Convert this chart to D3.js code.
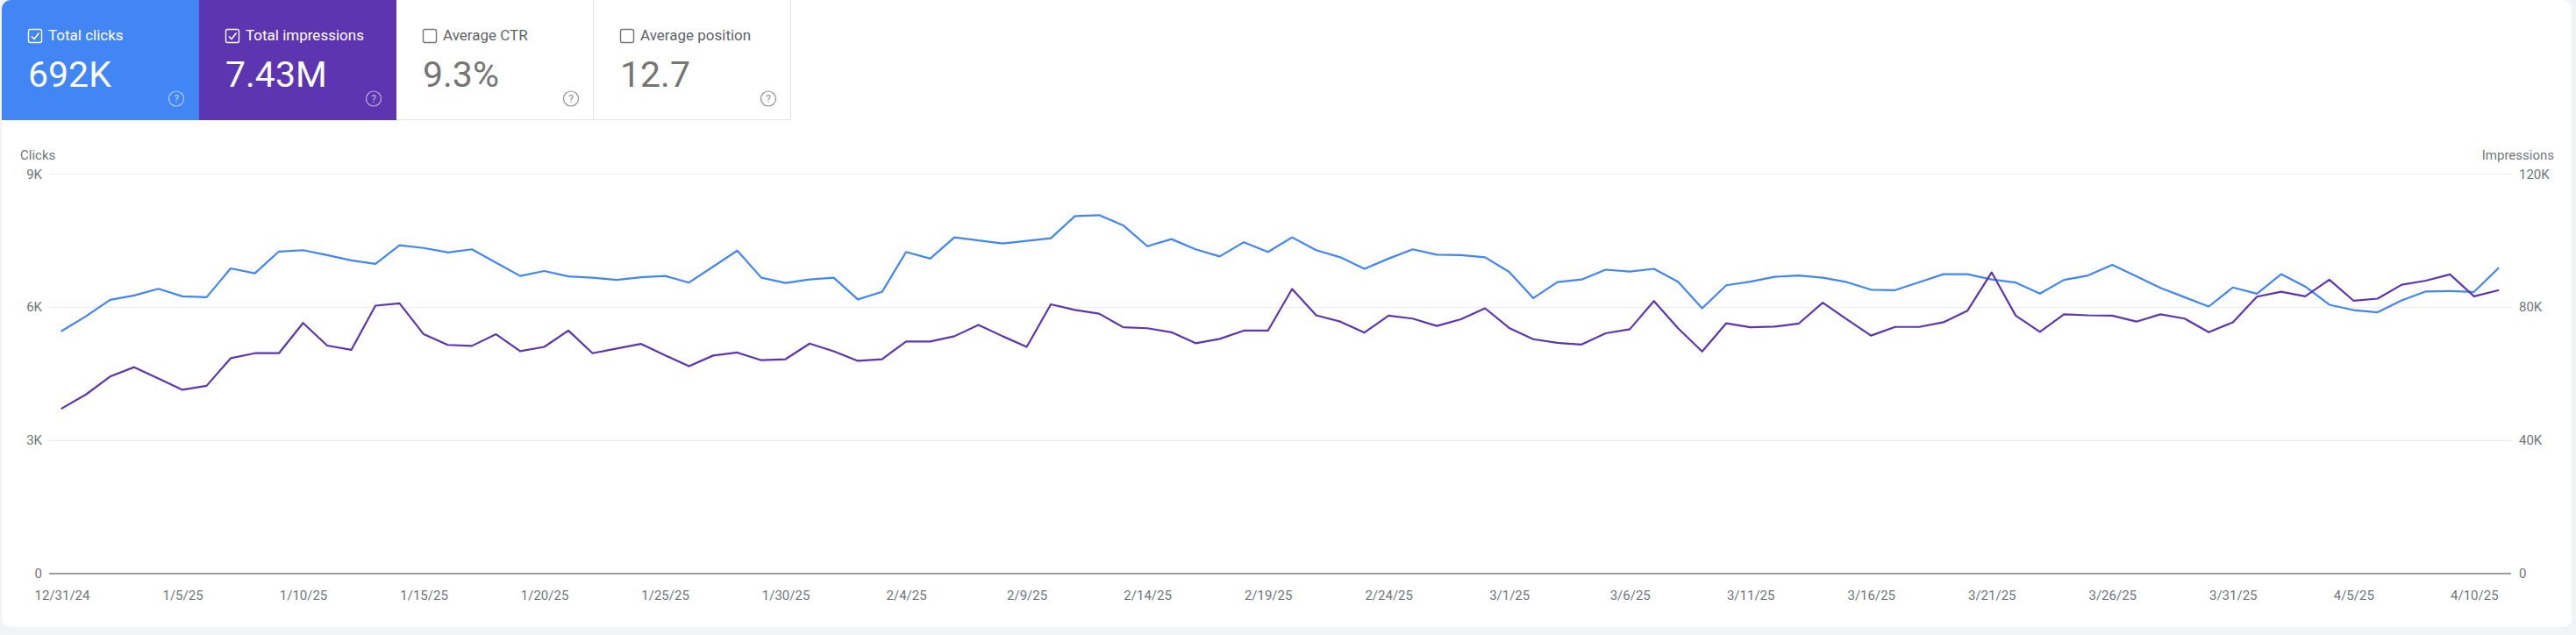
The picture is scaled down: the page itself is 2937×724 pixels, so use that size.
<!doctype html>
<html lang="en">
<head>
  <meta charset="utf-8">
  <title>Search performance</title>
  <style>
body {
  margin: 0;
  background: #f1f3f4;
  font-family: Roboto, "Noto Sans", sans-serif;
}
/* white panel with rounded corners that holds cards and chart */
#panel {
  position: absolute;
  left: 2px;
  top: 0;
  width: 2930px;
  height: 715px;
  background: #fff;
  border-radius: 10px;
  overflow: hidden;
}
.axis text {
  font: 15px Roboto, sans-serif;
  fill: #70757a;
}
.axis path {
  display: none;
}
.grid line {
  stroke: #ebebeb;
  stroke-width: 1.3;
  shape-rendering: crispEdges;
}
.line {
  fill: none;
  stroke-width: 2.2;
  stroke-linejoin: round;
  stroke-linecap: round;
}
  </style>
</head>
<body>
  <div id="panel"></div>
  <script src="https://d3js.org/d3.v7.min.js"></script>
  <script>
// metric cards
var cardLabels = ["Total clicks", "Total impressions", "Average CTR", "Average position"];
var cardValues = ["692K", "7.43M", "9.3%", "12.7"];
var cardChecked = [true, true, false, false];

// daily values, 12/31/24 .. 4/11/25
var clicks = [
  5460, 5790, 6160, 6260, 6410, 6240, 6220, 6870, 6760, 7250,
  7280, 7170, 7050, 6970, 7390, 7330, 7230, 7300, 7000, 6700,
  6810, 6690, 6660, 6610, 6670, 6700, 6550, 6910, 7270, 6660,
  6540, 6620, 6660, 6170, 6340, 7240, 7090, 7570, 7500, 7430,
  7490, 7550, 8050, 8070, 7840, 7370, 7530, 7300, 7140, 7460,
  7240, 7570, 7280, 7120, 6860, 7090, 7300, 7180, 7170, 7120,
  6790, 6200, 6560, 6620, 6840, 6800, 6860, 6570, 5970, 6490,
  6570, 6680, 6710, 6660, 6560, 6390, 6380, 6560, 6740, 6740,
  6620, 6550, 6300, 6610, 6710, 6950, 6690, 6430, 6220, 6010,
  6440, 6300, 6740, 6460, 6050, 5930, 5880, 6150, 6350, 6360,
  6340, 6870
];
var impressions = [
  49500, 53700, 59100, 61900, 58500, 55100, 56300, 64600, 66100, 66100,
  75200, 68400, 67100, 80400, 81100, 71800, 68600, 68300, 71800, 66700,
  68000, 72900, 66100, 67500, 68900, 65500, 62200, 65400, 66300, 64000,
  64300, 69000, 66700, 63800, 64300, 69600, 69600, 71200, 74600, 71200,
  68000, 80800, 79100, 78000, 73900, 73600, 72400, 69100, 70400, 72900,
  72900, 85400, 77500, 75600, 72300, 77400, 76500, 74300, 76300, 79600,
  73700, 70300, 69200, 68700, 72100, 73300, 81800, 73600, 66600, 75100,
  73900, 74100, 75000, 81300, 76300, 71400, 74000, 74000, 75400, 78900,
  90400, 77400, 72500, 77800, 77500, 77400, 75600, 77800, 76500, 72400,
  75400, 83100, 84600, 83200, 88200, 81900, 82500, 86700, 87900, 89800,
  83200, 85000
];

var dateTicks = ["12/31/24", "1/5/25", "1/10/25", "1/15/25", "1/20/25", "1/25/25",
  "1/30/25", "2/4/25", "2/9/25", "2/14/25", "2/19/25", "2/24/25", "3/1/25",
  "3/6/25", "3/11/25", "3/16/25", "3/21/25", "3/26/25", "3/31/25", "4/5/25", "4/10/25"];
var clickTicks = [0, 3000, 6000, 9000];
var imprTicks = [0, 40000, 80000, 120000];

var parseDate = d3.timeParse("%m/%d/%y");
var days = d3.timeDay.range(new Date(2024, 11, 31), new Date(2025, 3, 12));

var W = 2930, H = 715;
var svg = d3.select("#panel").append("svg")
    .attr("width", W)
    .attr("height", H);

// ---- cards ----
var cardColors = ["#4285f4", "#5e35b1", "#fff", "#fff"];
var cardW = 225, cardH = 137;

var card = svg.selectAll(".card")
    .data(cardLabels)
    .enter().append("g")
    .attr("class", "card")
    .attr("transform", function(d, i) { return "translate(" + (i * cardW) + ",0)"; });

card.append("rect")
    .attr("width", cardW)
    .attr("height", cardH)
    .attr("fill", function(d, i) { return cardColors[i]; });

// thin borders on the white cards
card.filter(function(d, i) { return !cardChecked[i]; })
    .append("path")
    .attr("d", "M0," + (cardH - 0.5) + "H" + (cardW - 0.5) + "V0")
    .attr("fill", "none")
    .attr("stroke", "#e3e3e3");

var fg = function(d, i) { return cardChecked[i] ? "#fff" : "#757575"; };

card.append("rect")
    .attr("x", 30.5).attr("y", 33.5)
    .attr("width", 15).attr("height", 15)
    .attr("rx", 2)
    .attr("fill", "none")
    .attr("stroke", fg)
    .attr("stroke-width", 1.4);

card.filter(function(d, i) { return cardChecked[i]; })
    .append("path")
    .attr("d", "M34,41.5 L37,44.5 L42.5,37.5")
    .attr("fill", "none")
    .attr("stroke", "#fff")
    .attr("stroke-width", 1.6);

card.append("text")
    .attr("x", 53)
    .attr("y", 46)
    .attr("font-size", 17)
    .attr("fill", function(d, i) { return cardChecked[i] ? "#fff" : "#5f6368"; })
    .text(function(d) { return d; });

card.append("text")
    .attr("x", 30)
    .attr("y", 99)
    .attr("font-size", 41)
    .attr("fill", function(d, i) { return cardChecked[i] ? "#fff" : "#757575"; })
    .text(function(d, i) { return cardValues[i]; });

var help = card.append("g")
    .attr("transform", "translate(199,112.5)")
    .attr("opacity", function(d, i) { return cardChecked[i] ? 0.6 : 0.8; });
help.append("circle")
    .attr("r", 8.5)
    .attr("fill", "none")
    .attr("stroke", fg)
    .attr("stroke-width", 1.2);
help.append("text")
    .attr("text-anchor", "middle")
    .attr("y", 4.5)
    .attr("font-size", 12)
    .attr("fill", fg)
    .text("?");

// ---- chart ----
var plotLeft = 54, plotRight = 2861, plotTop = 198.3, plotBottom = 653.4;

var x = d3.scaleTime()
    .domain([days[0], days[days.length - 1]])
    .range([68.5, 2846.3]);
var y = d3.scaleLinear().domain([0, 9000]).range([plotBottom, plotTop]);
var y2 = d3.scaleLinear().domain([0, 120000]).range([plotBottom, plotTop]);

var kFmt = function(d) { return d === 0 ? "0" : d / 1000 + "K"; };

var gy = svg.append("g")
    .attr("class", "axis grid")
    .attr("transform", "translate(" + plotLeft + ",0)")
    .call(d3.axisLeft(y).tickValues(clickTicks).tickFormat(kFmt)
      .tickSize(-(plotRight - plotLeft)).tickPadding(8));
gy.selectAll(".tick line")
    .filter(function(d) { return d === 0; })
    .style("stroke", "#9e9e9e");

svg.append("g")
    .attr("class", "axis")
    .attr("transform", "translate(" + plotRight + ",0)")
    .call(d3.axisRight(y2).tickValues(imprTicks).tickFormat(kFmt)
      .tickSize(0).tickPadding(9));

svg.append("g")
    .attr("class", "axis")
    .attr("transform", "translate(0," + plotBottom + ")")
    .call(d3.axisBottom(x).tickValues(dateTicks.map(parseDate))
      .tickFormat(d3.timeFormat("%-m/%-d/%y")).tickSize(0).tickPadding(20));

svg.append("text")
    .attr("x", 21).attr("y", 182)
    .attr("font-size", 15)
    .attr("fill", "#70757a")
    .text("Clicks");

svg.append("text")
    .attr("x", 2910).attr("y", 182)
    .attr("text-anchor", "end")
    .attr("font-size", 15)
    .attr("fill", "#70757a")
    .text("Impressions");

var clickLine = d3.line()
    .x(function(d, i) { return x(days[i]); })
    .y(function(d) { return y(d); });
var imprLine = d3.line()
    .x(function(d, i) { return x(days[i]); })
    .y(function(d) { return y2(d); });

svg.append("path")
    .datum(clicks)
    .attr("class", "line")
    .attr("stroke", "#4285f4")
    .attr("d", clickLine);

svg.append("path")
    .datum(impressions)
    .attr("class", "line")
    .attr("stroke", "#5e35b1")
    .attr("d", imprLine);
  </script>
</body>
</html>
